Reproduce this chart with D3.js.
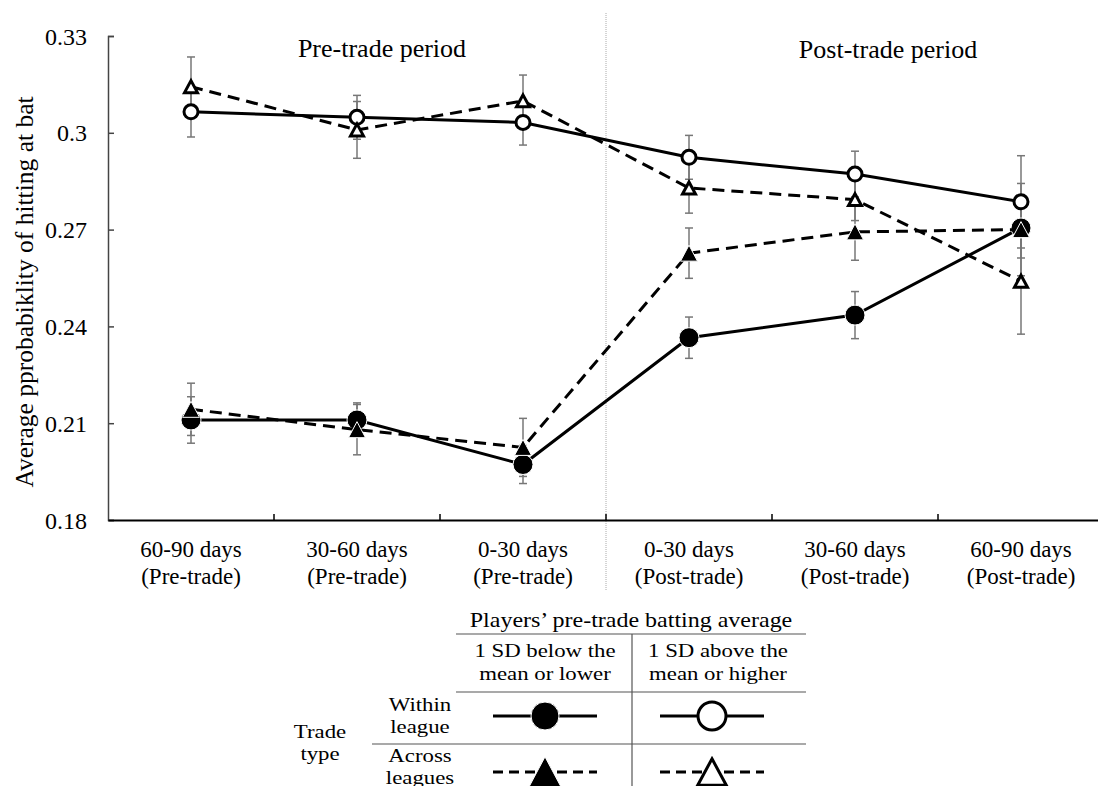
<!DOCTYPE html>
<html>
<head>
<meta charset="utf-8">
<script src="https://cdn.jsdelivr.net/npm/d3@7"></script>
<style>
  body { margin: 0; background: #fff; }
</style>
</head>
<body>
<script>

// data

const categoryTop = ["60-90 days", "30-60 days", "0-30 days", "0-30 days", "30-60 days", "60-90 days"];
const categoryBottom = ["(Pre-trade)", "(Pre-trade)", "(Pre-trade)", "(Post-trade)", "(Post-trade)", "(Post-trade)"];
const yTicks = [0.18, 0.21, 0.24, 0.27, 0.30, 0.33];

const withinLow = [0.2110, 0.2110, 0.1972, 0.2365, 0.2435, 0.2705];
const withinLowErr = [0.0072, 0.0053, 0.0059, 0.0064, 0.0073, 0.0093];
const acrossLow = [0.2143, 0.2080, 0.2025, 0.2627, 0.2693, 0.2700];
const acrossLowErr = [0.0081, 0.0078, 0.0090, 0.0078, 0.0088, 0.0143];
const withinHigh = [0.3065, 0.3048, 0.3032, 0.2924, 0.2872, 0.2786];
const withinHighErr = [0.0078, 0.0068, 0.0070, 0.0068, 0.0071, 0.0143];
const acrossHigh = [0.3143, 0.3009, 0.3099, 0.2829, 0.2793, 0.2540];
const acrossHighErr = [0.0092, 0.0088, 0.0080, 0.0078, 0.0065, 0.0164];

const series = [
    { values: withinLow, errors: withinLowErr, dashed: false, marker: "circle", filled: true },
    { values: acrossLow, errors: acrossLowErr, dashed: true, marker: "triangle", filled: true },
    { values: withinHigh, errors: withinHighErr, dashed: false, marker: "circle", filled: false },
    { values: acrossHigh, errors: acrossHighErr, dashed: true, marker: "triangle", filled: false }
];

const FONT = "'Liberation Serif', 'Times New Roman', Times, serif";

// dimensions

const dms = { width: 1098, height: 786, left: 108, right: 1104, top: 36, bottom: 520 };

const svg = d3.select("body")
    .append("svg")
        .attr("width", dms.width)
        .attr("height", dms.height);

// scales

const xScale = d3.scaleBand()
    .domain(d3.range(categoryTop.length))
    .range([dms.left, dms.right]);

const yScale = d3.scaleLinear()
    .domain([0.18, 0.33])
    .range([dms.bottom, dms.top]);

const xCenter = i => xScale(i) + xScale.bandwidth() / 2;

// divider between periods

svg.append("line")
    .attr("x1", xScale(3)).attr("x2", xScale(3))
    .attr("y1", 13).attr("y2", 590)
    .attr("stroke", "#aaa")
    .attr("stroke-width", 1)
    .attr("stroke-dasharray", "1,1");

// axes

const yAxis = d3.axisRight(yScale)
    .tickValues(yTicks)
    .tickSize(6)
    .tickFormat(d => String(+d.toFixed(2)));

const yG = svg.append("g")
    .attr("transform", `translate(${dms.left},0)`)
    .call(yAxis);
yG.select(".domain").attr("stroke", "#444").attr("stroke-width", 1.5);
yG.selectAll(".tick line").attr("stroke", "#444").attr("stroke-width", 1.5);
yG.selectAll(".tick text")
    .attr("x", -21)
    .attr("dy", "0.34em")
    .attr("text-anchor", "end")
    .attr("fill", "#000")
    .style("font-size", "24px");

const xAxis = d3.axisTop(xScale)
    .tickValues([])
    .tickSizeOuter(0);

const xG = svg.append("g")
    .attr("transform", `translate(0,${dms.bottom})`)
    .call(xAxis);
xG.select(".domain").attr("stroke", "#000").attr("stroke-width", 2);

// band boundary ticks
xG.selectAll(".bt")
    .data(d3.range(1, categoryTop.length))
    .join("line")
        .attr("x1", i => xScale(i)).attr("x2", i => xScale(i))
        .attr("y1", 0).attr("y2", -6)
        .attr("stroke", "#000")
        .attr("stroke-width", 1.5);

const catLabels = svg.append("g")
    .selectAll("text")
    .data(categoryTop)
    .join("text")
        .attr("text-anchor", "middle")
        .attr("transform", (d, i) => `translate(${xCenter(i)},0)`)
        .style("font-size", "23px");
catLabels.append("tspan").attr("x", 0).attr("y", 557).text(d => d);
catLabels.append("tspan").attr("x", 0).attr("y", 584).text((d, i) => categoryBottom[i]);

svg.append("text")
    .attr("transform", "translate(33,292) rotate(-90)")
    .attr("text-anchor", "middle")
    .style("font-size", "25.5px")
    .text("Average pprobabiklity of hitting at bat");

svg.append("text")
    .attr("x", 382).attr("y", 57)
    .attr("text-anchor", "middle")
    .style("font-size", "26px")
    .text("Pre-trade period");

svg.append("text")
    .attr("x", 888).attr("y", 58)
    .attr("text-anchor", "middle")
    .style("font-size", "26px")
    .text("Post-trade period");

// markers

const triPath = (w, h) => `M0,${-h / 2}L${w / 2},${h / 2}L${-w / 2},${h / 2}Z`;

function drawMarker(sel, s, scale) {
    const k = scale || 1;
    if (s.marker === "circle") {
        sel.append("circle")
            .attr("r", (s.filled ? 10 : 7) * k)
            .attr("fill", s.filled ? "#000" : "#fff")
            .attr("stroke", s.filled ? "#fff" : "#000")
            .attr("stroke-width", s.filled ? 1 : 3);
    } else {
        sel.append("path")
            .attr("d", s.filled ? triPath(17 * k, 16 * k) : triPath(13 * k, 12 * k))
            .attr("fill", s.filled ? "#000" : "#fff")
            .attr("stroke", s.filled ? "#fff" : "#000")
            .attr("stroke-width", s.filled ? 1 : 3)
            .attr("stroke-linejoin", "miter");
    }
}

// error bars

const errG = svg.append("g");
series.forEach(s => {
    s.values.forEach((v, i) => {
        const e = s.errors[i];
        const x = xCenter(i);
        const g = errG.append("g").attr("stroke", "#777").attr("stroke-width", 1.5);
        g.append("line").attr("x1", x).attr("x2", x).attr("y1", yScale(v - e)).attr("y2", yScale(v + e));
        g.append("line").attr("x1", x - 4).attr("x2", x + 4).attr("y1", yScale(v - e)).attr("y2", yScale(v - e));
        g.append("line").attr("x1", x - 4).attr("x2", x + 4).attr("y1", yScale(v + e)).attr("y2", yScale(v + e));
    });
});

// lines and markers

const line = d3.line()
    .x((d, i) => xCenter(i))
    .y(d => yScale(d));

series.forEach(s => {
    svg.append("path")
        .datum(s.values)
        .attr("d", line)
        .attr("fill", "none")
        .attr("stroke", "#000")
        .attr("stroke-width", 3)
        .attr("stroke-dasharray", s.dashed ? "12,7" : null);

    svg.append("g")
        .selectAll("g")
        .data(s.values)
        .join("g")
            .attr("transform", (d, i) => `translate(${xCenter(i)},${yScale(d)})`)
            .each(function () { drawMarker(d3.select(this), s); });
});

// legend table

const leg = svg.append("g");
const legLine = (x1, y1, x2, y2) => leg.append("line")
    .attr("x1", x1).attr("y1", y1).attr("x2", x2).attr("y2", y2)
    .attr("stroke", "#555").attr("stroke-width", 1.2);

legLine(456, 634, 806, 634);
legLine(632, 634, 632, 786);
legLine(456, 692, 806, 692);
legLine(372, 744, 806, 744);

// the legend reads slightly stretched sideways in the reference
const legText = (x, y, t, size) => leg.append("text")
    .attr("transform", `translate(${x},${y}) scale(1.2,1)`)
    .attr("text-anchor", "middle")
    .style("font-size", (size || 19) + "px")
    .text(t);

legText(631, 627, "Players\u2019 pre-trade batting average", 20);
legText(545, 657, "1 SD below the");
legText(545, 680, "mean or lower");
legText(718, 657, "1 SD above the");
legText(718, 680, "mean or higher");
legText(420, 711, "Within");
legText(420, 733, "league");
legText(320, 738, "Trade");
legText(320, 760, "type");
legText(420, 762, "Across");
legText(420, 784, "leagues");

const legendCells = [
    { x: 545, y: 716, s: series[0] },
    { x: 545, y: 772, s: series[1] },
    { x: 712, y: 716, s: series[2] },
    { x: 712, y: 772, s: series[3] }
];

legendCells.forEach(c => {
    const g = leg.append("g").attr("transform", `translate(${c.x},${c.y})`);
    g.append("line")
        .attr("x1", -52).attr("x2", 52)
        .attr("stroke", "#000")
        .attr("stroke-width", 3)
        .attr("stroke-dasharray", c.s.dashed ? "10,6" : null);
    drawMarker(g, c.s, c.s.marker === "circle" ? (c.s.filled ? 1.4 : 2) : (c.s.filled ? 1.9 : 2.2));
});

svg.selectAll("text")
    .attr("font-family", null)
    .style("font-family", FONT);

</script>
</body>
</html>
